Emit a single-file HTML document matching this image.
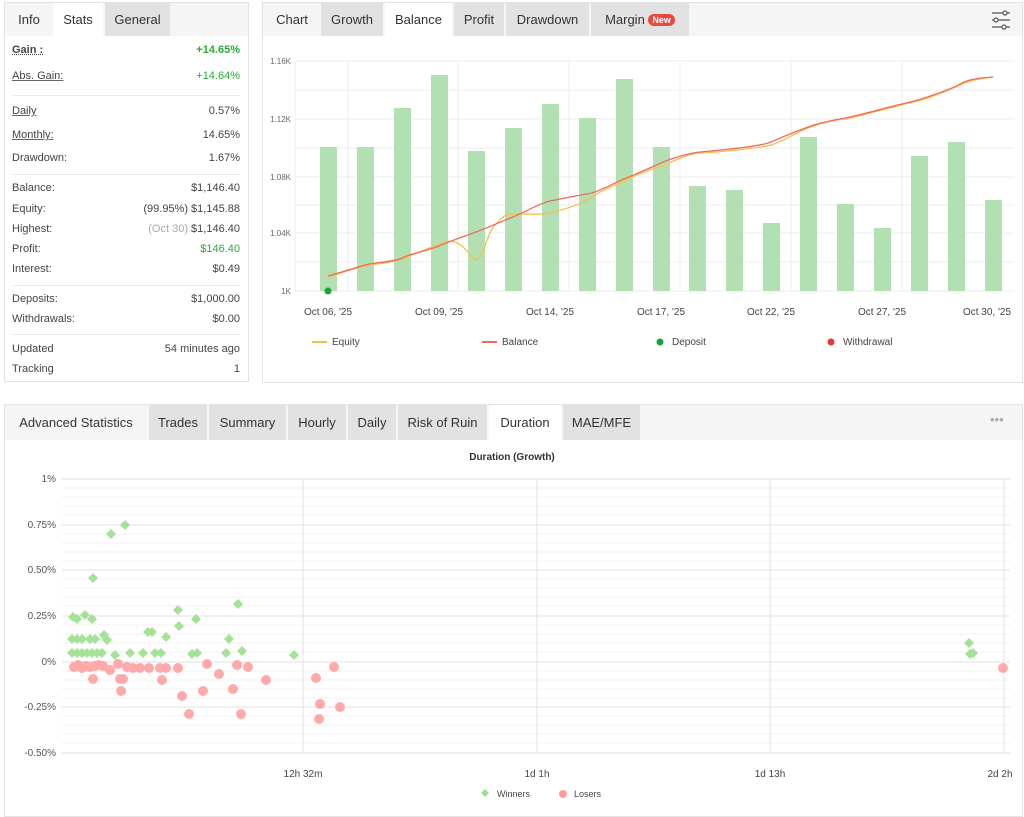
<!DOCTYPE html>
<html><head><meta charset="utf-8"><style>
*{margin:0;padding:0;box-sizing:border-box}
body{width:1024px;height:817px;background:#fff;font-family:"Liberation Sans",sans-serif;position:relative;overflow:hidden;color:#333}
.p{position:absolute;border:1px solid #e3e3e3;background:#fff}
.bar{position:absolute;background:#f5f5f5}
.t{position:absolute;font-size:13px;color:#333;display:flex;align-items:center;justify-content:center;background:#e2e2e2}
.t.a{background:#fff}
.t.n{background:transparent}
.r{position:absolute;left:12px;width:228px;font-size:11px;display:flex;justify-content:space-between;color:#444}
.u{text-decoration:underline;text-decoration-style:solid;text-decoration-color:#666}
.d{text-decoration:underline dotted}
.sep{position:absolute;left:12px;width:228px;border-top:1px solid #eee}
.g{color:#2fa83a}
svg{position:absolute;left:0;top:0}
</style></head><body>
<div class="p" style="left:4px;top:2px;width:245px;height:380px"></div>
<div class="bar" style="left:5px;top:3px;width:243px;height:33px"></div>
<div class="t n" style="left:5px;top:3px;width:48px;height:33px">Info</div>
<div class="t a" style="left:53px;top:3px;width:50px;height:33px">Stats</div>
<div class="t" style="left:105px;top:3px;width:65px;height:33px">General</div>
<div class="r" style="top:44px"><b class="d">Gain :</b><b class="g">+14.65%</b></div>
<div class="r" style="top:70px"><span class="u">Abs. Gain:</span><span class="g">+14.64%</span></div>
<div class="sep" style="top:95px"></div>
<div class="r" style="top:105px"><span class="u">Daily</span><span>0.57%</span></div>
<div class="r" style="top:129px"><span class="u">Monthly:</span><span>14.65%</span></div>
<div class="r" style="top:152px"><span>Drawdown:</span><span>1.67%</span></div>
<div class="sep" style="top:174px"></div>
<div class="r" style="top:182px"><span>Balance:</span><span>$1,146.40</span></div>
<div class="r" style="top:203px"><span>Equity:</span><span>(99.95%) $1,145.88</span></div>
<div class="r" style="top:223px"><span>Highest:</span><span><span style="color:#aaa">(Oct 30)</span> $1,146.40</span></div>
<div class="r" style="top:243px"><span>Profit:</span><span class="g">$146.40</span></div>
<div class="r" style="top:263px"><span>Interest:</span><span>$0.49</span></div>
<div class="sep" style="top:285px"></div>
<div class="r" style="top:293px"><span>Deposits:</span><span>$1,000.00</span></div>
<div class="r" style="top:313px"><span>Withdrawals:</span><span>$0.00</span></div>
<div class="sep" style="top:334px"></div>
<div class="r" style="top:343px"><span>Updated</span><span>54 minutes ago</span></div>
<div class="r" style="top:363px"><span>Tracking</span><span>1</span></div>

<div class="p" style="left:262px;top:2px;width:761px;height:381px"></div>
<div class="bar" style="left:263px;top:3px;width:759px;height:33px"></div>
<div class="t n" style="left:263px;top:3px;width:58px;height:33px">Chart</div>
<div class="t" style="left:321px;top:3px;width:62px;height:33px">Growth</div>
<div class="t a" style="left:385px;top:3px;width:67px;height:33px">Balance</div>
<div class="t" style="left:454px;top:3px;width:50px;height:33px">Profit</div>
<div class="t" style="left:506px;top:3px;width:83px;height:33px">Drawdown</div>
<div class="t" style="left:591px;top:3px;width:98px;height:33px">Margin&nbsp;<span style="background:#e8473c;color:#fff;font-size:9px;font-weight:bold;border-radius:7px;padding:1px 4px">New</span></div>

<div class="p" style="left:4px;top:404px;width:1019px;height:413px"></div>
<div class="bar" style="left:5px;top:405px;width:1017px;height:35px"></div>
<div class="t n" style="left:5px;top:405px;width:142px;height:35px;font-weight:500">Advanced Statistics</div>
<div class="t" style="left:149px;top:405px;width:58px;height:35px">Trades</div>
<div class="t" style="left:209px;top:405px;width:77px;height:35px">Summary</div>
<div class="t" style="left:288px;top:405px;width:58px;height:35px">Hourly</div>
<div class="t" style="left:348px;top:405px;width:48px;height:35px">Daily</div>
<div class="t" style="left:398px;top:405px;width:89px;height:35px">Risk of Ruin</div>
<div class="t a" style="left:489px;top:405px;width:72px;height:35px">Duration</div>
<div class="t" style="left:563px;top:405px;width:77px;height:35px">MAE/MFE</div>
<div style="position:absolute;left:990px;top:412px;font-size:13px;color:#aaa">•••</div>

<svg width="1024" height="817" font-family="Liberation Sans, sans-serif">
<g stroke="#555" stroke-width="1.2" fill="#fff">
<line x1="992" y1="13" x2="1010" y2="13"/><line x1="992" y1="20" x2="1010" y2="20"/><line x1="992" y1="27" x2="1010" y2="27"/>
<circle cx="1005" cy="13" r="2"/><circle cx="996" cy="20" r="2"/><circle cx="1004" cy="27" r="2"/></g>
<g stroke="#eee" stroke-width="1">
<line x1="295" y1="61" x2="1014" y2="61"/><line x1="295" y1="90" x2="1014" y2="90"/><line x1="295" y1="119" x2="1014" y2="119"/><line x1="295" y1="148" x2="1014" y2="148"/><line x1="295" y1="177" x2="1014" y2="177"/><line x1="295" y1="205" x2="1014" y2="205"/><line x1="295" y1="233" x2="1014" y2="233"/><line x1="295" y1="262" x2="1014" y2="262"/><line x1="295" y1="291" x2="1014" y2="291"/>
<line x1="348" y1="61" x2="348" y2="291"/><line x1="458" y1="61" x2="458" y2="291"/><line x1="569" y1="61" x2="569" y2="291"/><line x1="680" y1="61" x2="680" y2="291"/><line x1="791" y1="61" x2="791" y2="291"/><line x1="902" y1="61" x2="902" y2="291"/><line x1="295" y1="61" x2="295" y2="291"/></g>
<g font-size="8" fill="#666" text-anchor="end"><text x="291" y="64">1.16K</text><text x="291" y="122">1.12K</text><text x="291" y="180">1.08K</text><text x="291" y="236">1.04K</text><text x="291" y="294">1K</text></g>
<g fill="#b3e0b3">
<rect x="320" y="147" width="17" height="144"/><rect x="357" y="147" width="17" height="144"/><rect x="394" y="108" width="17" height="183"/><rect x="431" y="75" width="17" height="216"/><rect x="468" y="151" width="17" height="140"/><rect x="505" y="128" width="17" height="163"/><rect x="542" y="104" width="17" height="187"/><rect x="579" y="118" width="17" height="173"/><rect x="616" y="79" width="17" height="212"/><rect x="653" y="147" width="17" height="144"/><rect x="689" y="186" width="17" height="105"/><rect x="726" y="190" width="17" height="101"/><rect x="763" y="223" width="17" height="68"/><rect x="800" y="137" width="17" height="154"/><rect x="837" y="204" width="17" height="87"/><rect x="874" y="228" width="17" height="63"/><rect x="911" y="156" width="17" height="135"/><rect x="948" y="142" width="17" height="149"/><rect x="985" y="200" width="17" height="91"/></g>
<path d="M328,277 C345,272 355,268 365,266 S395,262 402,259 S430,248 439,244 S458,238 470,255 S485,235 495,225 S505,214 513,214 S545,215 550,213 S575,208 590,198 S615,186 624,181 S650,170 661,166 S690,153 700,153 S760,148 771,145 S795,133 808,128 S840,119 845,119 S880,110 882,110 S915,101 918,101 S950,90 960,85 S985,78 993,77" fill="none" stroke="#f5c04a" stroke-width="1.3"/>
<path d="M328,276 C345,271 355,268 365,265 S395,262 402,258 S430,250 439,246 S465,236 476,232 S505,220 513,217 S540,203 550,201 S575,196 587,194 S612,184 624,179 S650,168 661,163 S690,153 700,152 S760,147 771,142 S795,132 808,127 S840,119 845,118 S880,110 882,109 S915,101 918,100 S950,90 960,84 S985,78 993,77" fill="none" stroke="#ee6b5e" stroke-width="1.3"/>
<circle cx="328" cy="291" r="3.5" fill="#1aa23a"/>
<g font-size="10" fill="#444" text-anchor="middle"><text x="328" y="315">Oct 06, '25</text><text x="439" y="315">Oct 09, '25</text><text x="550" y="315">Oct 14, '25</text><text x="661" y="315">Oct 17, '25</text><text x="771" y="315">Oct 22, '25</text><text x="882" y="315">Oct 27, '25</text><text x="987" y="315">Oct 30, '25</text></g>
<g font-size="10" fill="#444">
<line x1="312" y1="342" x2="327" y2="342" stroke="#f5c04a" stroke-width="2"/><text x="332" y="345">Equity</text>
<line x1="482" y1="342" x2="497" y2="342" stroke="#ee6b5e" stroke-width="2"/><text x="502" y="345">Balance</text>
<circle cx="660" cy="342" r="3.5" fill="#1aa23a"/><text x="672" y="345">Deposit</text>
<circle cx="831" cy="342" r="3.5" fill="#e8372c"/><text x="843" y="345">Withdrawal</text></g>

<text x="512" y="460" font-size="10" font-weight="bold" text-anchor="middle" fill="#333">Duration (Growth)</text>
<g stroke="#f0f0f0"><line x1="62" y1="488" x2="1010" y2="488"/><line x1="62" y1="497" x2="1010" y2="497"/><line x1="62" y1="506" x2="1010" y2="506"/><line x1="62" y1="515" x2="1010" y2="515"/><line x1="62" y1="534" x2="1010" y2="534"/><line x1="62" y1="543" x2="1010" y2="543"/><line x1="62" y1="552" x2="1010" y2="552"/><line x1="62" y1="561" x2="1010" y2="561"/><line x1="62" y1="579" x2="1010" y2="579"/><line x1="62" y1="588" x2="1010" y2="588"/><line x1="62" y1="597" x2="1010" y2="597"/><line x1="62" y1="606" x2="1010" y2="606"/><line x1="62" y1="625" x2="1010" y2="625"/><line x1="62" y1="634" x2="1010" y2="634"/><line x1="62" y1="643" x2="1010" y2="643"/><line x1="62" y1="652" x2="1010" y2="652"/><line x1="62" y1="671" x2="1010" y2="671"/><line x1="62" y1="680" x2="1010" y2="680"/><line x1="62" y1="689" x2="1010" y2="689"/><line x1="62" y1="698" x2="1010" y2="698"/><line x1="62" y1="716" x2="1010" y2="716"/><line x1="62" y1="725" x2="1010" y2="725"/><line x1="62" y1="734" x2="1010" y2="734"/><line x1="62" y1="743" x2="1010" y2="743"/></g>
<g stroke="#e2e2e2"><line x1="62" y1="479" x2="1010" y2="479"/><line x1="62" y1="525" x2="1010" y2="525"/><line x1="62" y1="570" x2="1010" y2="570"/><line x1="62" y1="616" x2="1010" y2="616"/><line x1="62" y1="662" x2="1010" y2="662"/><line x1="62" y1="707" x2="1010" y2="707"/><line x1="62" y1="753" x2="1010" y2="753"/>
<line x1="303" y1="479" x2="303" y2="753"/><line x1="537" y1="479" x2="537" y2="753"/><line x1="770" y1="479" x2="770" y2="753"/><line x1="1004" y1="479" x2="1004" y2="753"/></g>
<g font-size="10" fill="#555" text-anchor="end"><text x="56" y="482">1%</text><text x="56" y="528">0.75%</text><text x="56" y="573">0.50%</text><text x="56" y="619">0.25%</text><text x="56" y="665">0%</text><text x="56" y="710">-0.25%</text><text x="56" y="756">-0.50%</text></g>
<g font-size="10" fill="#444" text-anchor="middle"><text x="303" y="777">12h 32m</text><text x="537" y="777">1d 1h</text><text x="770" y="777">1d 13h</text><text x="1000" y="777">2d 2h</text></g>
<g fill="#ff9c9c" opacity="0.85">
<circle cx="74" cy="667" r="5"/><circle cx="78" cy="665" r="5"/><circle cx="82" cy="668" r="5"/><circle cx="86" cy="666" r="5"/><circle cx="90" cy="667" r="5"/><circle cx="95" cy="666" r="5"/><circle cx="99" cy="665" r="5"/><circle cx="103" cy="666" r="5"/><circle cx="93" cy="679" r="5"/><circle cx="110" cy="670" r="5"/><circle cx="118" cy="664" r="5"/><circle cx="120" cy="679" r="5"/><circle cx="123" cy="679" r="5"/><circle cx="121" cy="691" r="5"/><circle cx="127" cy="667" r="5"/><circle cx="133" cy="668" r="5"/><circle cx="140" cy="668" r="5"/><circle cx="149" cy="668" r="5"/><circle cx="162" cy="680" r="5"/><circle cx="160" cy="668" r="5"/><circle cx="166" cy="668" r="5"/><circle cx="178" cy="668" r="5"/><circle cx="182" cy="696" r="5"/><circle cx="189" cy="714" r="5"/><circle cx="203" cy="691" r="5"/><circle cx="207" cy="664" r="5"/><circle cx="219" cy="674" r="5"/><circle cx="233" cy="689" r="5"/><circle cx="237" cy="665" r="5"/><circle cx="241" cy="714" r="5"/><circle cx="248" cy="667" r="5"/><circle cx="266" cy="680" r="5"/><circle cx="316" cy="678" r="5"/><circle cx="320" cy="704" r="5"/><circle cx="319" cy="719" r="5"/><circle cx="334" cy="667" r="5"/><circle cx="340" cy="707" r="5"/><circle cx="1003" cy="668" r="5"/></g>
<g fill="#9be08c" opacity="0.9" id="w">
<path d="M73,612l5,5l-5,5l-5,-5z"/><path d="M77,614l5,5l-5,5l-5,-5z"/><path d="M85,610l5,5l-5,5l-5,-5z"/><path d="M92,614l5,5l-5,5l-5,-5z"/><path d="M93,573l5,5l-5,5l-5,-5z"/><path d="M111,529l5,5l-5,5l-5,-5z"/><path d="M125,520l5,5l-5,5l-5,-5z"/>
<path d="M72,634l5,5l-5,5l-5,-5z"/><path d="M77,634l5,5l-5,5l-5,-5z"/><path d="M82,634l5,5l-5,5l-5,-5z"/><path d="M90,634l5,5l-5,5l-5,-5z"/><path d="M95,634l5,5l-5,5l-5,-5z"/>
<path d="M72,648l5,5l-5,5l-5,-5z"/><path d="M77,648l5,5l-5,5l-5,-5z"/><path d="M82,648l5,5l-5,5l-5,-5z"/><path d="M87,648l5,5l-5,5l-5,-5z"/><path d="M92,648l5,5l-5,5l-5,-5z"/><path d="M97,648l5,5l-5,5l-5,-5z"/><path d="M102,648l5,5l-5,5l-5,-5z"/>
<path d="M104,630l5,5l-5,5l-5,-5z"/><path d="M107,635l5,5l-5,5l-5,-5z"/><path d="M115,650l5,5l-5,5l-5,-5z"/><path d="M130,648l5,5l-5,5l-5,-5z"/><path d="M143,648l5,5l-5,5l-5,-5z"/><path d="M148,627l5,5l-5,5l-5,-5z"/><path d="M152,627l5,5l-5,5l-5,-5z"/><path d="M155,648l5,5l-5,5l-5,-5z"/><path d="M161,648l5,5l-5,5l-5,-5z"/><path d="M166,632l5,5l-5,5l-5,-5z"/><path d="M178,605l5,5l-5,5l-5,-5z"/><path d="M179,621l5,5l-5,5l-5,-5z"/><path d="M192,649l5,5l-5,5l-5,-5z"/><path d="M197,648l5,5l-5,5l-5,-5z"/><path d="M196,614l5,5l-5,5l-5,-5z"/><path d="M226,648l5,5l-5,5l-5,-5z"/><path d="M229,634l5,5l-5,5l-5,-5z"/><path d="M238,599l5,5l-5,5l-5,-5z"/><path d="M242,646l5,5l-5,5l-5,-5z"/><path d="M294,650l5,5l-5,5l-5,-5z"/><path d="M969,638l5,5l-5,5l-5,-5z"/><path d="M970,649l5,5l-5,5l-5,-5z"/><path d="M973,648l5,5l-5,5l-5,-5z"/></g>
<g font-size="9" fill="#444"><path d="M485,789l4,4l-4,4l-4,-4z" fill="#9be08c"/><text x="497" y="797">Winners</text><circle cx="563" cy="794" r="4" fill="#ff9c9c"/><text x="574" y="797">Losers</text></g>
</svg>
</body></html>
